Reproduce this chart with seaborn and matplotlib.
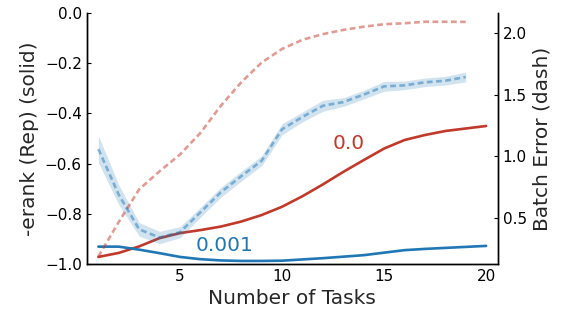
import numpy as np
import pandas as pd
import matplotlib
matplotlib.use("Agg")
import matplotlib.pyplot as plt
import seaborn as sns

# ---------- DATA ----------
tasks = list(range(1, 21))
tasks_err = list(range(1, 20))

# -erank (Rep), left axis, solid lines
erank_0 = [-0.972, -0.956, -0.93, -0.897, -0.877, -0.865, -0.851, -0.831, -0.805, -0.772,
           -0.73, -0.683, -0.633, -0.586, -0.54, -0.506, -0.486, -0.47, -0.46, -0.45]
erank_001 = [-0.931, -0.931, -0.943, -0.957, -0.972, -0.981, -0.986, -0.988, -0.988, -0.987,
             -0.982, -0.977, -0.971, -0.965, -0.955, -0.945, -0.94, -0.936, -0.932, -0.928]

# Batch error, right axis, dashed lines
err_0 = [0.19, 0.47, 0.734, 0.88, 1.016, 1.19, 1.41, 1.60, 1.76, 1.87,
         1.944, 1.99, 2.024, 2.05, 2.07, 2.078, 2.09, 2.09, 2.089]
err_001 = [1.06, 0.69, 0.41, 0.344, 0.387, 0.548, 0.71, 0.84, 0.965, 1.22,
           1.32, 1.41, 1.44, 1.5, 1.567, 1.575, 1.60, 1.613, 1.643]
err_001_sd = [0.11, 0.08, 0.055, 0.05, 0.045, 0.04, 0.04, 0.04, 0.04, 0.045,
              0.04, 0.045, 0.035, 0.035, 0.04, 0.035, 0.035, 0.035, 0.04]

red = "#c0392b"
blue = "#2077b4"

sns.set_style("white")
plt.rcParams["font.family"] = ["DejaVu Sans"]

fig = plt.figure(figsize=(5.65, 3.12), dpi=100)
ax = fig.add_axes([0.1535, 0.154, 0.7275, 0.804])
ax2 = ax.twinx()

# solid lines
sns.lineplot(x=tasks, y=erank_0, ax=ax, color=red, lw=1.9)
sns.lineplot(x=tasks, y=erank_001, ax=ax, color=blue, lw=1.9)

# dashed lines
lo = np.array(err_001) - np.array(err_001_sd)
hi = np.array(err_001) + np.array(err_001_sd)
ax2.fill_between(tasks_err, lo, hi, color=blue, alpha=0.2, lw=0)
dash = (0, (2.2, 1.3))
sns.lineplot(x=tasks_err, y=err_0, ax=ax2, color=red, alpha=0.5, lw=1.9, linestyle=dash)
sns.lineplot(x=tasks_err, y=err_001, ax=ax2, color=blue, alpha=0.5, lw=1.9, linestyle=dash)

ax.text(12.5, -0.52, "0.0", color=red, fontsize=14.5, ha="left", va="center")
ax.text(7.2, -0.925, "0.001", color=blue, fontsize=14.5, ha="center", va="center")

ax.set_xlim(0.43, 20.57)
ax.set_ylim(-1.0, 0.0)
ax2.set_ylim(0.13, 2.16)
ax.set_xticks([5, 10, 15, 20])
ax.set_yticks([0.0, -0.2, -0.4, -0.6, -0.8, -1.0])
ax2.set_yticks([0.5, 1.0, 1.5, 2.0])

ax.set_xlabel("Number of Tasks", fontsize=14.5)
ax.set_ylabel("-erank (Rep) (solid)", fontsize=14.5)
ax2.set_ylabel("Batch Error (dash)", fontsize=14.5)

for a in (ax, ax2):
    a.tick_params(direction="in", length=3, width=0.8, labelsize=11, colors="black")
    a.spines["top"].set_visible(False)
    for s in ("left", "right", "bottom"):
        a.spines[s].set_color("black")
        a.spines[s].set_linewidth(1.0)

fig.savefig("out.png", dpi=100)
